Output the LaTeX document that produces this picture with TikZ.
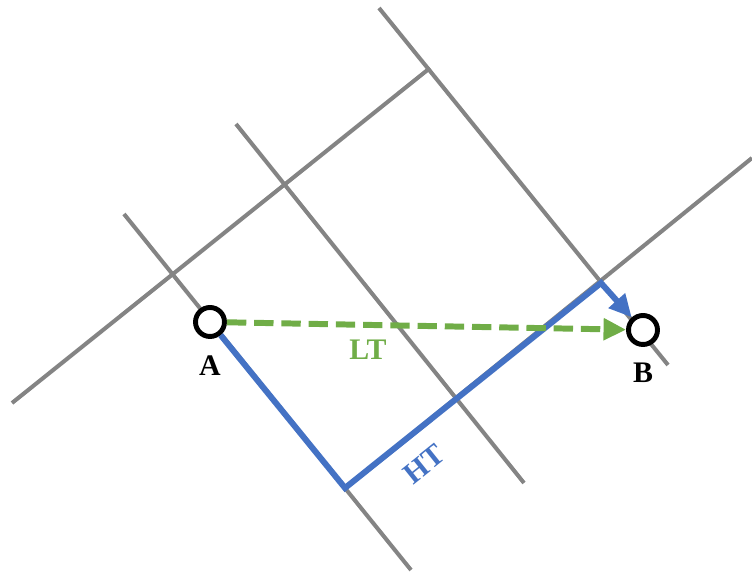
\documentclass[tikz,border=0pt]{standalone}
\usepackage{fontspec}
\setmainfont{Liberation Serif}
\usetikzlibrary{arrows.meta,positioning}

\definecolor{gridgray}{RGB}{132,132,132}
\definecolor{htblue}{RGB}{68,114,196}
\definecolor{ltgreen}{RGB}{112,173,71}

\begin{document}
\begin{tikzpicture}[
  x=0.02cm, y=-0.02cm,
  gridline/.style={draw=gridgray, line width=2.3pt},
  station/.style={circle, draw=black, fill=white, line width=2.8pt,
                  minimum size=5.8mm, inner sep=0pt},
  tag/.style={font=\fontsize{17}{20}\selectfont\bfseries, inner sep=1pt},
  htpath/.style={draw=htblue, line width=3.4pt,
                 -{Triangle[length=4.5mm,width=4.2mm]}},
  ltpath/.style={draw=ltgreen, line width=3.4pt, dash pattern=on 11pt off 4.5pt,
                 -{Triangle[length=4.5mm,width=4.2mm]}}
]
\useasboundingbox (0,0) rectangle (752,573);

% Grid lines
\draw[gridline] (12,403) -- (430,68);
\draw[gridline] (345,488) -- (752,158);
\draw[gridline] (124,214) -- (411,570);
\draw[gridline] (236,124) -- (524,483);
\draw[gridline] (379,8) -- (668,365);

% Stations
\node[station] (A) at (210,322) {};
\node[station] (B) at (643,330) {};
\node[tag] (labA) at (210,366) {A};
\node[tag] (labB) at (643,373) {B};

% Turning points of the HT route
\coordinate (turn1) at (345,488);
\coordinate (turn2) at (601,283);

% Routes
\draw[htpath] (A) -- (turn1) -- (turn2) -- (B);
\draw[ltpath] (A) -- (B);
\node[tag, text=ltgreen] (labLT) at (368,350) {LT};
\node[tag, text=htblue, rotate=38.7] (labHT) at (424,464) {HT};

\end{tikzpicture}
\end{document}
